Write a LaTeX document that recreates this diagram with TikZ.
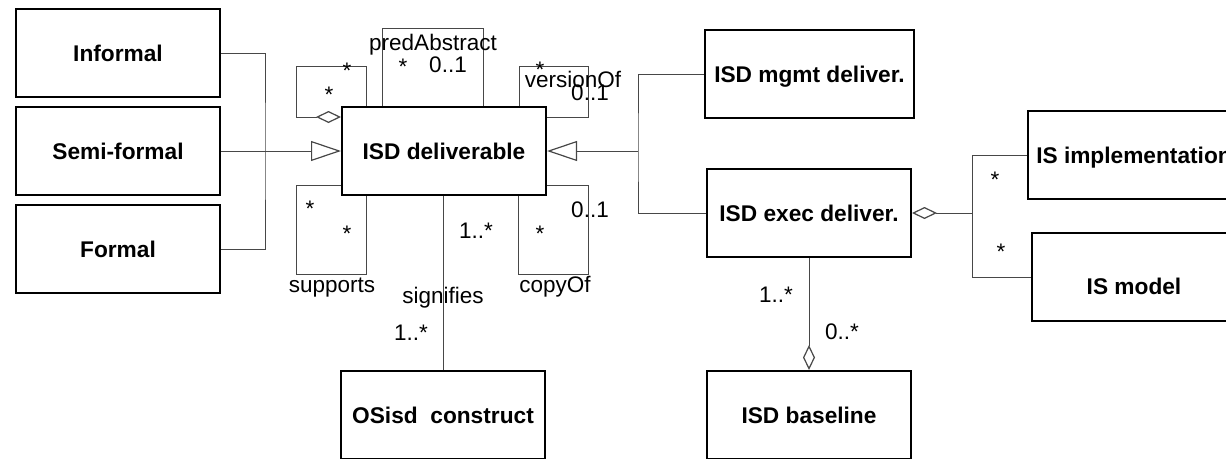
\documentclass[tikz,border=0pt]{standalone}
\usepackage{fontspec}
\setmainfont{Liberation Sans}
\usetikzlibrary{arrows.meta,calc}
\begin{document}
\begin{tikzpicture}[x=1pt,y=-1pt,
  cls/.style={draw=black,line width=2pt,minimum width=204pt,minimum height=88pt,
    inner sep=0pt,font=\fontsize{22.7}{27}\selectfont\bfseries,
    text height=16.3pt,text depth=0pt},
  link/.style={draw=black!72,line width=1pt},
  gen/.style={link,-{Triangle[open,length=30pt,width=20pt,line width=1.2pt]}},
  aggend/.style={link,-{Diamond[open,length=25pt,width=12pt,line width=1.2pt]}},
  aggstart/.style={link,{Diamond[open,length=25pt,width=12pt,line width=1.2pt]}-},
  lab/.style={font=\fontsize{22.5}{27}\selectfont,anchor=base,inner sep=0pt}]
\useasboundingbox (0,0) rectangle (1226,458);
\clip (0,0) rectangle (1226,458);

% classes
\node[cls] (inf)    at (118,53)    {Informal};
\node[cls] (semi)   at (118,151)   {Semi-formal};
\node[cls] (formal) at (118,249)   {Formal};
\node[cls] (del)    at (444,151)   {ISD deliverable};
\node[cls,minimum width=209pt] (mgmt) at (809.5,74) {ISD mgmt deliver.};
\node[cls] (exec)   at (809,213)   {ISD exec deliver.};
\node[cls,minimum width=212pt] (impl) at (1134,155) {IS implementation};
\node[cls] (model)  at (1134,277)  {\raisebox{-9pt}[0pt][0pt]{IS model}};
\node[cls] (osisd)  at (443,415)   {OSisd\ \ construct};
\node[cls] (base)   at (809,415)   {ISD baseline};

% generalisation: kinds of deliverable by formality
\coordinate (jl) at (265,151);
\draw[link] (inf.east) -| (jl) |- (formal.east);
\draw[gen] (semi.east) -- (del.west);

% generalisation: management and execution deliverables
\coordinate (jr) at (638,151);
\draw[link] (mgmt.west) -| (jr) |- (exec.west);
\draw[gen] (jr) -- (del.east);

% aggregation of IS parts into execution deliverables
\coordinate (ja) at (972,213);
\draw[aggstart] (exec.east) -- (ja);
\draw[link] (impl.west) -| (ja) |- (model.west);

% baseline aggregates execution deliverables
\draw[aggend] (exec.south) -- (base.north);

% signifies
\draw[link] (osisd.north) -- (osisd.north |- del.south);

% reflexive associations of ISD deliverable
\draw[aggstart] ($(del.north west)+(0,11)$) -| ($(del.north west)+(-45,-40)$)
  -| ($(del.north west)+(25,0)$);
\draw[link] ($(del.north west)+(41,0)$) |- ($(del.north west)+(142,-78)$)
  -- ($(del.north west)+(142,0)$);
\draw[link] ($(del.north west)+(178,0)$) |- ($(del.north west)+(247,-40)$)
  |- ($(del.north east)+(0,11)$);
\draw[link] ($(del.south west)+(0,-11)$) -| ($(del.south west)+(-45,78)$)
  -| ($(del.south west)+(25,0)$);
\draw[link] ($(del.south west)+(177,0)$) |- ($(del.south west)+(247,78)$)
  |- ($(del.south east)+(0,-11)$);

% role names and multiplicities
\node[lab] (a1) at (347,78)  {*};
\node[lab] (a2) at (329,102) {*};
\node[lab] (p0) at (433,50)  {predAbstract};
\node[lab] (p1) at (403,74)  {*};
\node[lab] (p2) at (448,72)  {0..1};
\node[lab] (v1) at (540,77)  {*};
\node[lab] (v0) at (573,87)  {versionOf};
\node[lab] (v2) at (590,100) {0..1};
\node[lab] (s1) at (310,216) {*};
\node[lab] (s2) at (347,241) {*};
\node[lab] (s0) at (332,292) {supports};
\node[lab] (g1) at (476,238) {1..*};
\node[lab] (g0) at (443,303) {signifies};
\node[lab] (g2) at (411,340) {1..*};
\node[lab] (c1) at (540,241) {*};
\node[lab] (c2) at (590,217) {0..1};
\node[lab] (c0) at (555,292) {copyOf};
\node[lab] (b1) at (776,302) {1..*};
\node[lab] (b2) at (842,339) {0..*};
\node[lab] (i1) at (995,187) {*};
\node[lab] (i2) at (1001,259) {*};
\end{tikzpicture}
\end{document}
